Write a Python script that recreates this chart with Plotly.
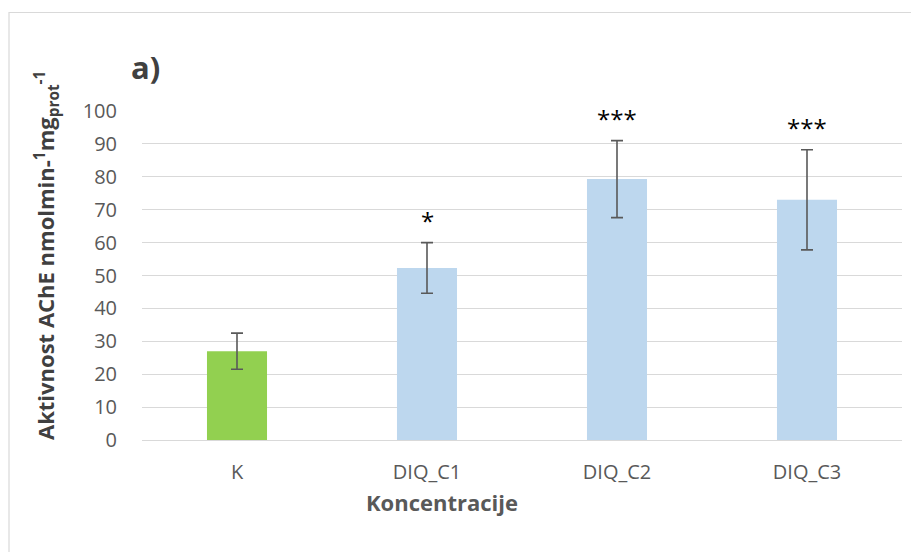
import plotly.graph_objects as go

categories = ["K", "DIQ_C1", "DIQ_C2", "DIQ_C3"]
values = [27.0, 52.3, 79.3, 73.0]
errors = [5.5, 7.7, 11.7, 15.2]
colors = ["#92D050", "#BDD7EE", "#BDD7EE", "#BDD7EE"]
signif = ["", "*", "***", "***"]

OFF = 8  # page body margin
W, H = 919 - OFF, 552 - OFF
L, R, T, B = 142 - OFF, 17, 111 - OFF, 112
pw, ph = W - L - R, H - T - B

def px_x(p):
    return (p - OFF - L) / pw

def px_y(p):
    return (H - B - (p - OFF)) / ph

fig = go.Figure()
fig.add_trace(go.Bar(
    x=categories, y=values,
    marker=dict(color=colors, line=dict(width=0)),
    width=0.316,
    error_y=dict(type="data", array=errors, visible=True,
                 color="#595959", thickness=1.6, width=6),
))

for c, v, e, s in zip(categories, values, errors, signif):
    if s:
        fig.add_annotation(x=c, y=v + e, text=s, showarrow=False,
                           yanchor="bottom", yshift=4,
                           font=dict(family="Open Sans", size=24, color="#000000"))

fig.add_annotation(xref="paper", yref="paper", x=px_x(145), y=px_y(67),
                   text="<b>a)</b>", showarrow=False, xanchor="center", yanchor="middle",
                   font=dict(family="Open Sans", size=31, color="#404040"))

fig.add_annotation(xref="paper", yref="paper", x=px_x(442), y=px_y(485),
                   text="<b>Koncentracije</b>", showarrow=False, xanchor="center", yanchor="top",
                   font=dict(family="Open Sans", size=22, color="#595959"))

fig.add_annotation(xref="paper", yref="paper", x=px_x(46), y=px_y(256),
                   text="<b>Aktivnost AChE nmolmin-<sup>1</sup>mg<sub>prot</sub><sup>-1</sup></b>",
                   textangle=-90, showarrow=False, xanchor="center", yanchor="middle",
                   font=dict(family="Open Sans", size=22, color="#404040"))

# outer chart border (light grey)
fig.add_shape(type="line", xref="paper", yref="paper",
              x0=px_x(9), x1=px_x(9), y0=px_y(12), y1=px_y(570),
              line=dict(color="#D9D9D9", width=1.2))
fig.add_shape(type="line", xref="paper", yref="paper",
              x0=px_x(9), x1=px_x(940), y0=px_y(12.5), y1=px_y(12.5),
              line=dict(color="#D9D9D9", width=1.2))

fig.update_layout(
    width=W, height=H,
    margin=dict(l=L, r=R, t=T, b=B, pad=0),
    paper_bgcolor="white", plot_bgcolor="white",
    showlegend=False,
    font=dict(family="Open Sans", color="#595959"),
)
fig.update_xaxes(showgrid=False, showline=False, zeroline=False,
                 tickfont=dict(size=20, color="#595959"),
                 ticks="", ticklabelstandoff=18)
fig.update_yaxes(range=[0, 100], dtick=10, showgrid=True, gridcolor="#D9D9D9",
                 gridwidth=1.2, zeroline=True, zerolinecolor="#D9D9D9", zerolinewidth=1.2,
                 showline=False, ticks="", ticklabelstandoff=24,
                 tickfont=dict(size=20, color="#595959"))

fig.write_html("out.html")
